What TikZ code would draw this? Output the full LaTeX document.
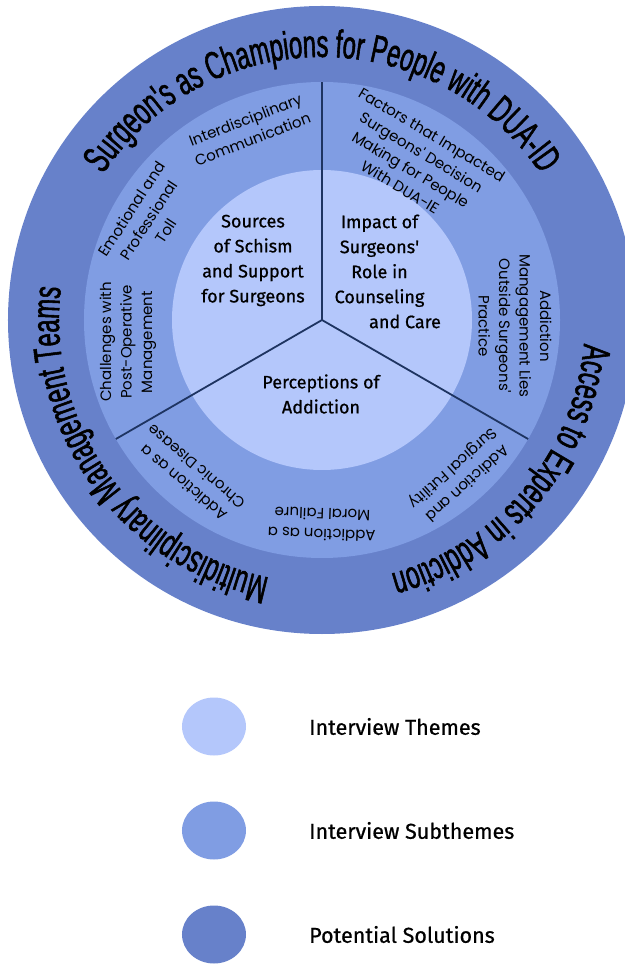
\documentclass[tikz,border=0pt]{standalone}
\usepackage{fontspec}
\setmainfont{Fira Sans}
\newfontfamily\temafont[FakeBold=0.7]{Fira Sans}
\newfontfamily\subfont{Poppins}
\newfontfamily\solfont[FakeStretch=0.61,FakeBold=1.4]{Liberation Sans}
\usetikzlibrary{decorations.text,shapes.geometric,positioning}
\definecolor{colTema}{HTML}{B4C7FB}
\definecolor{colSub}{HTML}{809DE3}
\definecolor{colSol}{HTML}{6781CA}
\definecolor{colLinea}{HTML}{1E3461}
\tikzset{
  tema/.style={align=center,inner sep=0pt,font=\temafont\fontsize{18}{25}\selectfont},
  subtema/.style={align=center,inner sep=0pt,font=\subfont\fontsize{15}{20.5}\selectfont},
  solucion/.style={decorate,decoration={text along path,text align=center,
      text={|\solfont\fontsize{39}{42}\selectfont|#1}}},
  division/.style={draw=colLinea,line width=1.8pt},
  muestra/.style={ellipse,minimum width=64pt,minimum height=58pt,inner sep=0pt},
  rotulo/.style={inner sep=0pt,font=\temafont\fontsize{21.5}{24}\selectfont}
}
\begin{document}
\begin{tikzpicture}[x=1pt,y=1pt]
\useasboundingbox (-322,-645) rectangle (302,320);
\fill[colSol] (0,0) circle (314);
\fill[colSub] (0,0) circle (238);
\fill[colTema] (0,0) circle (150);
\coordinate (O) at (0,0);
\coordinate (A) at (90:238);
\coordinate (B) at (210:238);
\coordinate (C) at (-30:238);
\draw[division] (O) -- (A);
\draw[division] (O) -- (B);
\draw[division] (O) -- (C);
% temas
\node[tema] (T1) at (-69,59.5) {Sources\\of Schism\\and Support\\for Surgeons};
\node[tema] (T2) at (57.5,48.5) {Impact of\\Surgeons\textquotesingle\\Role in\\Counseling\\\hspace*{51pt}and Care};
\node[tema] (T3) at (-1,-74) {Perceptions of\\Addiction};
% subtemas
\node[subtema,rotate=21] (S1) at (111:204) {Interdisciplinary\\Communication};
\node[subtema,rotate=57] (S2) at (150:200) {Emotional and\\Professional\\Toll};
\node[subtema,rotate=90] (S3) at (-194,-22) {Challenges with\\Post-Operative\\Management};
\node[subtema,rotate=-31] (S4) at (94,159) {Factors that Impacted\\Surgeons' Decision\\Making for People\\With DUA-IE};
\node[subtema,rotate=-90] (S5) at (193,-6) {Addiction\\Mangagement Lies\\Outside Surgeons'\\Practice};
\node[subtema,rotate=140] (S6) at (-132,-155) {Addiction as a\\Chronic Disease};
\node[subtema,rotate=178] (S7) at (0,-204.5) {Addiction as a\\Moral Failure};
\node[subtema,rotate=-138] (S8) at (137.5,-155) {Addiction and\\Surgical Futility};
% soluciones
\path[solucion={Surgeon's as Champions for People with DUA-ID}] (170:263) arc[start angle=170,end angle=10,radius=263];
\path[solucion={Multidisciplinary Management Teams}] (295.7:263) arc[start angle=295.7,end angle=135.7,radius=263];
\path[solucion={Access to Experts in Addiction}] (40:263) arc[start angle=40,end angle=-120,radius=263];
% leyenda
\node[muestra,fill=colTema] (L1) at (-108,-406.5) {};
\node[muestra,fill=colSub] (L2) at (-108,-510.5) {};
\node[muestra,fill=colSol] (L3) at (-108,-614.5) {};
\node[rotulo,right=95pt of L1.center] (R1) {Interview Themes};
\node[rotulo,right=95pt of L2.center] (R2) {Interview Subthemes};
\node[rotulo,right=95pt of L3.center] (R3) {Potential Solutions};
\end{tikzpicture}
\end{document}
